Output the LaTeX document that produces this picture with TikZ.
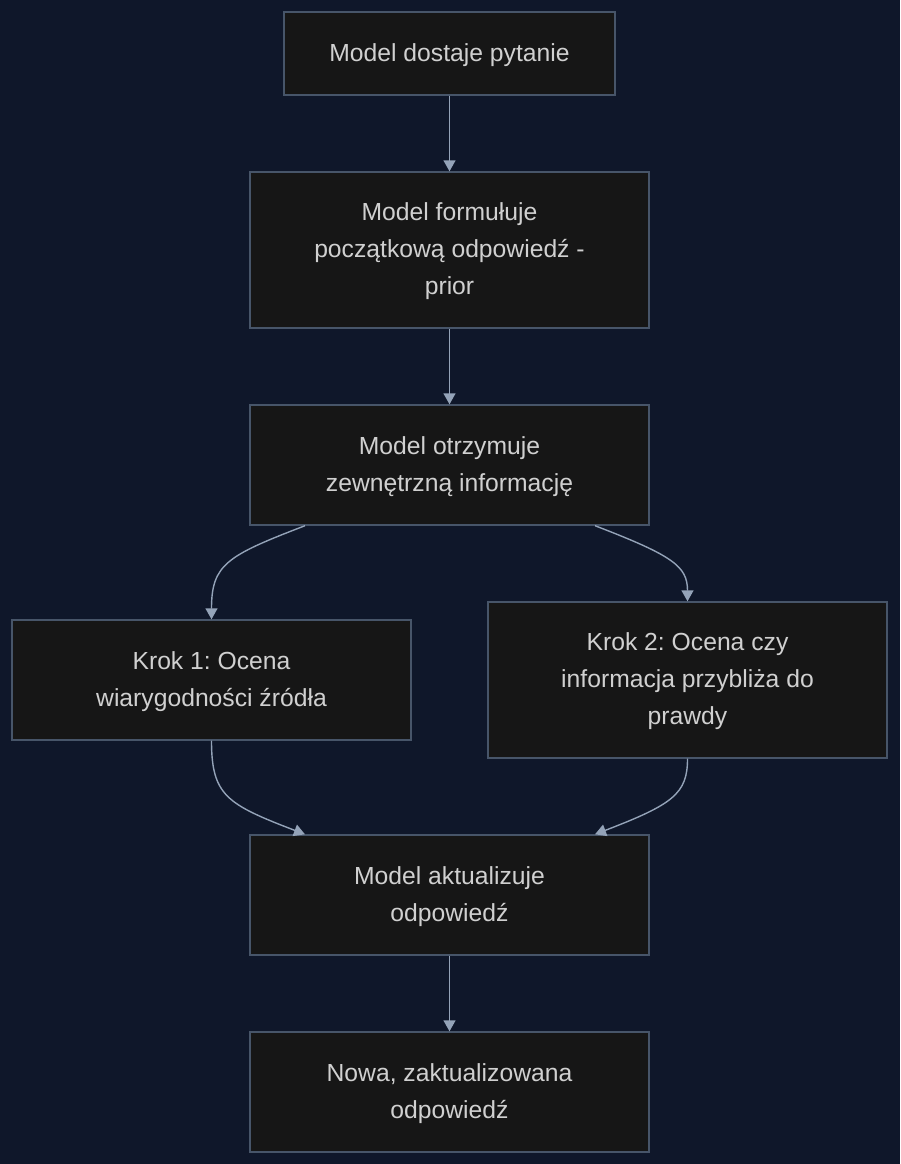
\documentclass[tikz,border=0pt]{standalone}
\usepackage{fontspec}
\setmainfont{Liberation Sans}
\usetikzlibrary{arrows.meta,positioning}
\definecolor{cBack}{HTML}{0F172A}
\definecolor{cBox}{HTML}{161616}
\definecolor{cEdge}{HTML}{475569}
\definecolor{cLine}{HTML}{94A3B8}
\definecolor{cText}{HTML}{D0D0D0}
\frenchspacing

\begin{document}
\begin{tikzpicture}[
   x=1pt, y=-1pt,
   font=\fontsize{24.7}{37}\selectfont, >={Triangle[width=12pt,length=11pt]},
   stepbox/.style={draw=cEdge, fill=cBox, line width=1.4pt, text=cText,
               minimum width=399pt, minimum height=120pt, align=center, inner sep=0pt,
               text depth=2pt},
   flow/.style={->, line width=1.4pt, cLine}]
  \fill[cBack] (0,0) rectangle (900,1164);
  \node[stepbox, minimum width=331pt, minimum height=83pt] (ask) at (449.5,53.5) {Model dostaje pytanie};
  \node[stepbox, minimum height=156pt] (prior) at (449.5,250) {Model formułuje\\ początkową odpowiedź -\\ prior};
  \node[stepbox] (info) at (449.5,465) {Model otrzymuje\\ zewnętrzną informację};
  \node[stepbox] (src) at (211.5,680) {Krok 1: Ocena\\ wiarygodności źródła};
  \node[stepbox, minimum height=156pt] (truth) at (687.5,680) {Krok 2: Ocena czy\\ informacja przybliża do\\ prawdy};
  \node[stepbox] (upd) at (449.5,895) {Model aktualizuje\\ odpowiedź};
  \node[stepbox] (new) at (449.5,1092) {Nowa, zaktualizowana\\ odpowiedź};
  \draw[flow] (ask) -- (prior);
  \draw[flow] (prior) -- (info);
  \draw[flow] ([xshift=-144.5pt]info.south) .. controls +(-78,30) and +(0,-55) .. (src.north);
  \draw[flow] ([xshift=145.5pt]info.south) .. controls +(78,30) and +(0,-35) .. (truth.north);
  \draw[flow] (src.south) .. controls +(0,55) and +(-78,-30) .. ([xshift=-144.5pt]upd.north);
  \draw[flow] (truth.south) .. controls +(0,35) and +(78,-30) .. ([xshift=145.5pt]upd.north);
  \draw[flow] (upd) -- (new);
\end{tikzpicture}
\end{document}
